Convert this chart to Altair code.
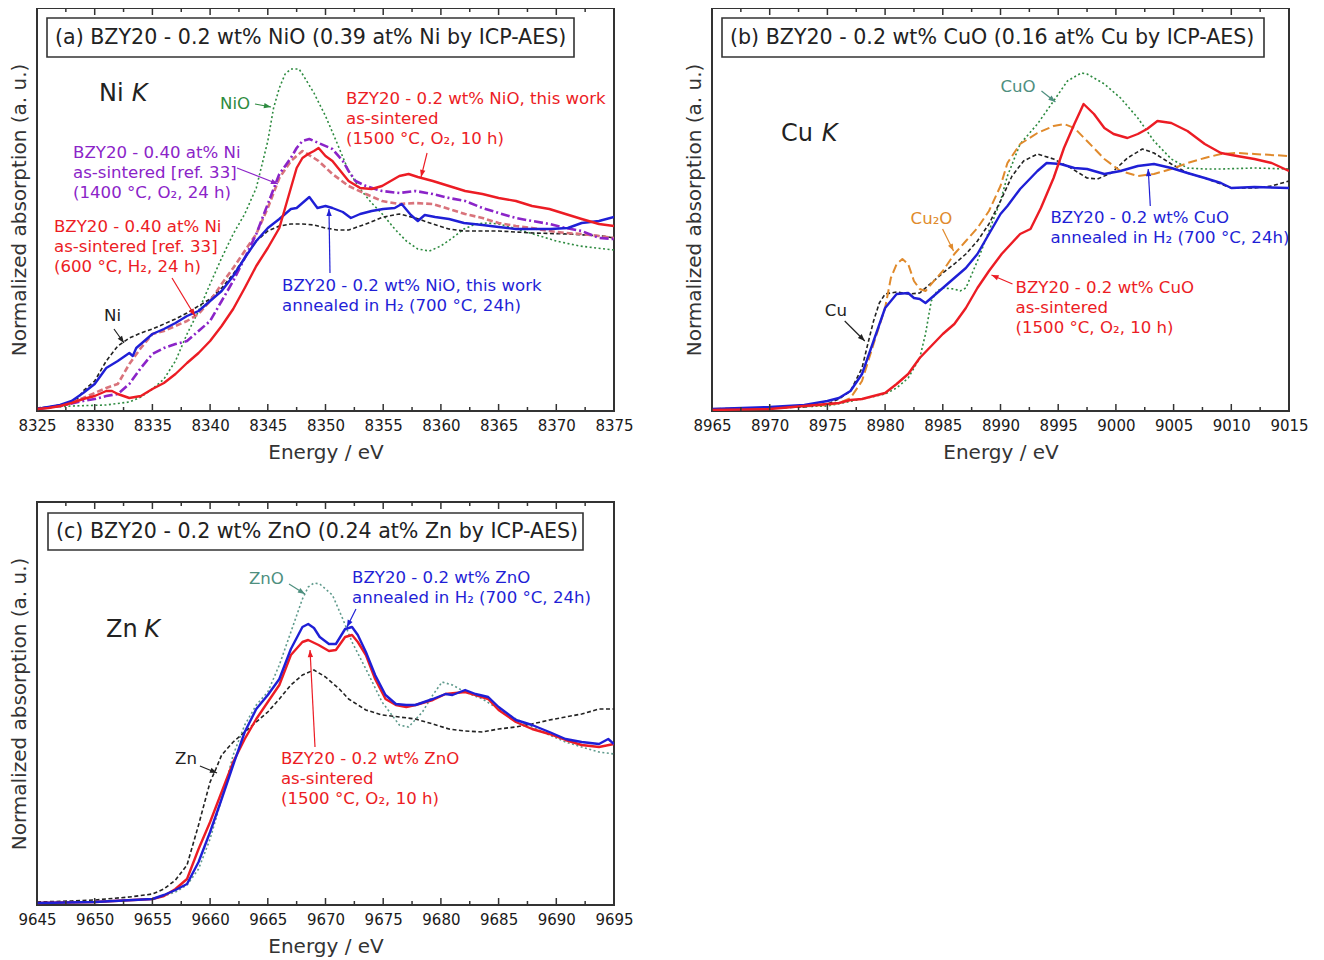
import math
import altair as alt
import pandas as pd

FONT = "DejaVu Sans"
W, H = 577, 403
YTOP = 2.015
PXX = W / 50.0
PXY = H / YTOP

RED = "#ec1c24"
BLUE = "#1f1fd6"
BLACK = "#222222"
GREEN = "#2e8b40"
TEAL = "#4e8f7f"
TEALLINE = "#5f9a8c"
PURPLE = "#8b24c8"
PINK = "#d9737b"
ORANGE = "#e08a2c"

# ---------------- Panel (a): Ni K ----------------
E_A_NIO = [8325, 8328, 8331, 8333, 8334, 8335, 8336, 8337, 8338, 8339, 8340, 8341, 8342, 8343, 8344,
           8345, 8345.5, 8346, 8346.5, 8347, 8347.7, 8348, 8349, 8350, 8351, 8352, 8353, 8354, 8355,
           8356, 8357, 8358, 8359, 8360, 8361, 8362, 8363, 8364, 8365, 8366, 8368, 8370, 8372, 8375]
A_A_NIO = [0.015, 0.025, 0.03, 0.045, 0.07, 0.11, 0.16, 0.25, 0.385, 0.5, 0.635, 0.765, 0.885, 0.985, 1.115,
           1.35, 1.515, 1.615, 1.685, 1.71, 1.71, 1.685, 1.59, 1.475, 1.34, 1.2, 1.11, 1.04, 0.98,
           0.91, 0.85, 0.81, 0.8, 0.825, 0.865, 0.91, 0.935, 0.94, 0.935, 0.92, 0.885, 0.85, 0.825, 0.805]

E_A_NI = [8325, 8326, 8327, 8328, 8328.5, 8329, 8330, 8331, 8332, 8333, 8334, 8335, 8336, 8337, 8338,
          8339, 8340, 8341, 8342, 8343, 8344, 8345, 8346, 8347, 8348, 8349, 8350, 8351, 8352, 8353.5,
          8355, 8356.4, 8357.8, 8359.3, 8360.7, 8362, 8365, 8368, 8371, 8374, 8375]
A_A_NI = [0.015, 0.02, 0.03, 0.045, 0.06, 0.1, 0.15, 0.25, 0.325, 0.365, 0.39, 0.41, 0.435, 0.46, 0.49,
          0.525, 0.56, 0.615, 0.685, 0.765, 0.85, 0.9, 0.925, 0.935, 0.935, 0.93, 0.915, 0.905, 0.905, 0.935,
          0.97, 0.985, 0.965, 0.935, 0.91, 0.9, 0.9, 0.89, 0.885, 0.875, 0.865]

E_A_PINK = [8325, 8327, 8329, 8330, 8331, 8332, 8333, 8334, 8335, 8336, 8337, 8338, 8339, 8340, 8341,
            8342, 8343, 8344, 8345, 8346, 8347, 8348, 8349, 8349.4, 8350.6, 8352, 8353.5, 8354.9, 8356.4,
            8357.8, 8359.3, 8360.7, 8362.1, 8363.6, 8365, 8366.5, 8367.9, 8369.4, 8370.8, 8372.2, 8373.7, 8375]
A_A_PINK = [0.01, 0.025, 0.065, 0.09, 0.115, 0.135, 0.235, 0.315, 0.385, 0.4, 0.425, 0.45, 0.485, 0.55, 0.635,
            0.715, 0.8, 0.885, 1.015, 1.165, 1.25, 1.3, 1.265, 1.25, 1.185, 1.125, 1.085, 1.05, 1.035,
            1.04, 1.035, 1.01, 0.985, 0.965, 0.94, 0.925, 0.915, 0.9, 0.89, 0.885, 0.875, 0.865]

E_A_PURPLE = [8325, 8327, 8329, 8330, 8331, 8332, 8333, 8334, 8335, 8336, 8337, 8338, 8339, 8340, 8341,
              8342, 8343, 8344, 8345, 8346, 8347, 8347.5, 8348, 8348.6, 8349.4, 8350.6, 8351.5, 8352, 8352.6,
              8353.5, 8354.9, 8356.4, 8357.8, 8359.3, 8360.7, 8362.1, 8363.6, 8365, 8366.5, 8367.9, 8369.4,
              8370.8, 8372.2, 8373.7, 8375]
A_A_PURPLE = [0.01, 0.025, 0.05, 0.06, 0.075, 0.085, 0.135, 0.215, 0.285, 0.315, 0.335, 0.35, 0.4, 0.45, 0.55,
              0.65, 0.765, 0.885, 1.035, 1.185, 1.265, 1.315, 1.35, 1.36, 1.34, 1.31, 1.25, 1.2, 1.15,
              1.125, 1.1, 1.09, 1.1, 1.085, 1.065, 1.05, 1.015, 0.99, 0.965, 0.95, 0.935,
              0.915, 0.9, 0.865, 0.86]

E_A_BLUE = [8325, 8326, 8327, 8328, 8329, 8330, 8331, 8332, 8333, 8333.3, 8333.6, 8334, 8335, 8336, 8337,
            8338, 8339, 8340, 8341, 8342, 8343, 8344, 8345, 8346, 8347, 8347.5, 8348, 8348.6, 8349.3, 8350,
            8350.6, 8351.5, 8352.2, 8353, 8354, 8355, 8356, 8356.6, 8357.4, 8358, 8358.6, 8359.5, 8360.7,
            8362, 8363.6, 8365, 8366.5, 8368, 8369.5, 8371, 8372.2, 8373.7, 8375]
A_A_BLUE = [0.01, 0.02, 0.03, 0.05, 0.09, 0.135, 0.215, 0.25, 0.29, 0.275, 0.315, 0.335, 0.385, 0.41, 0.44,
            0.475, 0.5, 0.55, 0.6, 0.675, 0.765, 0.85, 0.915, 0.96, 1.01, 1.015, 1.04, 1.07, 1.015, 1.025,
            1.015, 0.995, 0.965, 0.985, 1.0, 1.01, 1.015, 1.035, 0.98, 0.95, 0.98, 0.97, 0.96,
            0.94, 0.93, 0.92, 0.91, 0.91, 0.91, 0.915, 0.94, 0.95, 0.97]

E_A_RED = [8325, 8326, 8327, 8328, 8329, 8330, 8331, 8331.5, 8332, 8333, 8334, 8335, 8336, 8337, 8338,
           8339, 8340, 8341, 8342, 8343, 8344, 8345, 8346, 8346.5, 8347, 8347.5, 8348, 8348.5, 8349, 8349.4,
           8350, 8350.6, 8351.3, 8352, 8353, 8354, 8354.9, 8356.4, 8357.2, 8358, 8359.3, 8360.7, 8362.1,
           8363.6, 8365, 8366.5, 8367.9, 8369.4, 8370.8, 8372.2, 8373.7, 8375]
A_A_RED = [0.01, 0.015, 0.025, 0.04, 0.06, 0.075, 0.1, 0.1, 0.085, 0.065, 0.075, 0.11, 0.14, 0.185, 0.24,
           0.29, 0.35, 0.425, 0.51, 0.615, 0.725, 0.815, 0.915, 1.015, 1.115, 1.215, 1.265, 1.285, 1.3, 1.315,
           1.275, 1.25, 1.2, 1.15, 1.115, 1.11, 1.125, 1.175, 1.185, 1.17, 1.15, 1.125, 1.1,
           1.085, 1.065, 1.05, 1.025, 1.01, 0.985, 0.96, 0.935, 0.925]

# ---------------- Panel (b): Cu K ----------------
E_B_CU = [8965, 8970, 8973, 8975, 8976, 8977, 8978, 8978.5, 8979, 8979.5, 8980, 8981, 8982, 8983, 8984,
          8985, 8986, 8987, 8988, 8989, 8990, 8991, 8992, 8993.2, 8994.6, 8996.1, 8997.5, 8998.4, 8999.6,
          9001, 9002.3, 9003.3, 9004.8, 9006.2, 9007.7, 9009.1, 9010, 9012, 9013.5, 9015]
A_B_CU = [0.01, 0.015, 0.02, 0.035, 0.06, 0.1, 0.215, 0.335, 0.45, 0.54, 0.585, 0.595, 0.585, 0.59, 0.64,
          0.69, 0.735, 0.785, 0.85, 0.935, 1.05, 1.175, 1.25, 1.285, 1.26, 1.215, 1.165, 1.16, 1.19,
          1.265, 1.31, 1.29, 1.235, 1.19, 1.165, 1.135, 1.115, 1.115, 1.125, 1.15]

E_B_CU2O = [8965, 8970, 8975, 8976, 8977, 8978, 8979, 8980, 8980.5, 8981, 8981.5, 8982, 8982.5, 8983, 8983.5,
            8984, 8985, 8986, 8987, 8988, 8989, 8990, 8990.6, 8991.7, 8993.2, 8994.6, 8995.5, 8996.4, 8997.5,
            8999, 9000.4, 9001.9, 9003.3, 9004.8, 9006.2, 9007.7, 9009.1, 9010.5, 9012, 9015]
A_B_CU2O = [0.01, 0.015, 0.03, 0.04, 0.065, 0.15, 0.335, 0.515, 0.665, 0.735, 0.76, 0.735, 0.65, 0.61, 0.6,
            0.635, 0.7, 0.785, 0.85, 0.915, 1.0, 1.125, 1.24, 1.335, 1.39, 1.425, 1.435, 1.415, 1.35,
            1.26, 1.2, 1.175, 1.185, 1.21, 1.24, 1.265, 1.285, 1.29, 1.285, 1.275]

E_B_CUO = [8965, 8975, 8978, 8980, 8981, 8982, 8983, 8983.5, 8984, 8984.5, 8985, 8986, 8986.5, 8987, 8988,
           8989, 8990, 8990.6, 8991.7, 8993.2, 8994.6, 8995.8, 8997, 8997.5, 8999, 9000.4, 9001.9, 9003.3,
           9004.8, 9006.2, 9007.7, 9009.1, 9012, 9015]
A_B_CUO = [0.01, 0.025, 0.06, 0.085, 0.115, 0.165, 0.265, 0.385, 0.55, 0.6, 0.615, 0.61, 0.6, 0.615, 0.75,
           0.9, 1.05, 1.175, 1.335, 1.435, 1.55, 1.65, 1.69, 1.685, 1.635, 1.565, 1.465, 1.35,
           1.26, 1.215, 1.21, 1.21, 1.215, 1.21]

E_B_BLUE = [8965, 8970, 8973, 8975, 8976, 8977, 8978, 8979, 8980, 8980.5, 8981, 8982, 8982.5, 8983, 8983.5,
            8984, 8985, 8986, 8987, 8988, 8989, 8990, 8990.6, 8991.7, 8993.2, 8994, 8995.2, 8996.4, 8997.5,
            8999, 9000.4, 9001.9, 9003.3, 9004.8, 9006.2, 9007.7, 9009.1, 9010, 9012, 9015]
A_B_BLUE = [0.01, 0.02, 0.03, 0.05, 0.065, 0.1, 0.185, 0.35, 0.515, 0.55, 0.585, 0.59, 0.565, 0.56, 0.54,
            0.565, 0.615, 0.665, 0.715, 0.785, 0.885, 0.985, 1.025, 1.11, 1.2, 1.24, 1.235, 1.215, 1.21,
            1.185, 1.2, 1.225, 1.235, 1.215, 1.19, 1.165, 1.14, 1.115, 1.12, 1.115]

E_B_RED = [8965, 8970, 8975, 8976, 8977, 8978, 8979, 8980, 8981, 8982, 8983, 8984, 8985, 8986, 8987,
           8988, 8989, 8990.1, 8991.7, 8992.6, 8993.5, 8994.6, 8995.5, 8996.4, 8997.2, 8998.1, 8999, 8999.8,
           9001, 9001.9, 9002.7, 9003.6, 9004.8, 9006.2, 9007.7, 9009.1, 9010.5, 9012, 9013.5, 9015]
A_B_RED = [0.005, 0.01, 0.035, 0.04, 0.055, 0.06, 0.075, 0.09, 0.135, 0.185, 0.265, 0.325, 0.385, 0.435, 0.515,
           0.615, 0.7, 0.785, 0.885, 0.91, 1.015, 1.165, 1.315, 1.435, 1.535, 1.485, 1.415, 1.385,
           1.365, 1.385, 1.41, 1.45, 1.44, 1.4, 1.335, 1.29, 1.275, 1.26, 1.24, 1.2]

# ---------------- Panel (c): Zn K ----------------
E_C_ZN = [9645, 9648, 9650, 9653, 9655, 9656, 9657, 9658, 9659, 9660, 9660.5, 9661, 9662, 9663, 9664,
          9665, 9666, 9667, 9668, 9669, 9670, 9671.2, 9672, 9673.5, 9674.9, 9676.4, 9677.8, 9679.3, 9680.7,
          9682.1, 9683.6, 9685, 9686.5, 9687.9, 9689.4, 9690.8, 9692.2, 9693.7, 9695]
A_C_ZN = [0.015, 0.02, 0.025, 0.04, 0.055, 0.08, 0.125, 0.2, 0.4, 0.615, 0.68, 0.75, 0.815, 0.865, 0.915,
          0.965, 1.03, 1.1, 1.15, 1.175, 1.14, 1.08, 1.03, 0.975, 0.95, 0.94, 0.93, 0.905, 0.88,
          0.87, 0.865, 0.88, 0.89, 0.905, 0.925, 0.94, 0.955, 0.98, 0.98]

E_C_ZNO = [9645, 9650, 9655, 9656, 9657, 9658, 9659, 9660, 9661, 9662, 9663, 9664, 9665, 9666, 9667,
           9668, 9668.5, 9669, 9669.5, 9670, 9670.6, 9671.5, 9672.3, 9673.5, 9674.9, 9676.4, 9677.2, 9678.4,
           9679.3, 9680.1, 9681, 9682.1, 9683.6, 9685, 9686.5, 9687.9, 9689.4, 9690.8, 9692.2, 9693.7, 9695]
A_C_ZNO = [0.01, 0.015, 0.03, 0.045, 0.065, 0.1, 0.18, 0.33, 0.53, 0.75, 0.9, 1.0, 1.065, 1.2, 1.365,
           1.53, 1.59, 1.61, 1.605, 1.58, 1.55, 1.43, 1.315, 1.18, 1.015, 0.9, 0.89, 0.965,
           1.05, 1.115, 1.1, 1.065, 1.03, 0.98, 0.93, 0.89, 0.85, 0.815, 0.79, 0.765, 0.755]

E_C_BLUE = [9645, 9650, 9655, 9656, 9657, 9658, 9659, 9660, 9661, 9662, 9663, 9664, 9665, 9666, 9667,
            9668, 9668.5, 9669, 9669.5, 9670.3, 9670.9, 9671.7, 9672.3, 9672.8, 9673.5, 9674.3, 9675.2,
            9676.1, 9677, 9677.8, 9679.3, 9680.4, 9681, 9682.1, 9683, 9684.1, 9685, 9686.5, 9687.9,
            9689.4, 9690.8, 9692.2, 9693.7, 9694.5, 9695]
A_C_BLUE = [0.01, 0.015, 0.03, 0.05, 0.075, 0.105, 0.215, 0.365, 0.53, 0.7, 0.865, 0.98, 1.05, 1.13, 1.28,
            1.39, 1.405, 1.385, 1.34, 1.305, 1.305, 1.38, 1.39, 1.35, 1.265, 1.15, 1.05,
            1.005, 1.0, 1.0, 1.03, 1.055, 1.05, 1.075, 1.055, 1.04, 0.99, 0.925, 0.9,
            0.865, 0.83, 0.815, 0.805, 0.83, 0.805]

E_C_RED = [9645, 9650, 9655, 9656, 9657, 9658, 9659, 9660, 9661, 9662, 9663, 9664, 9665, 9666, 9667,
           9668, 9668.5, 9669.4, 9670.3, 9670.9, 9671.7, 9672.3, 9672.8, 9673.5, 9674.3, 9675.2, 9676.1,
           9677, 9677.8, 9679.3, 9680.4, 9682.1, 9683, 9684.1, 9685, 9686.5, 9687.9, 9689.4, 9690.8,
           9692.2, 9693.7, 9695]
A_C_RED = [0.01, 0.015, 0.03, 0.045, 0.08, 0.13, 0.28, 0.415, 0.565, 0.715, 0.83, 0.93, 1.015, 1.1, 1.25,
           1.315, 1.325, 1.3, 1.27, 1.275, 1.34, 1.35, 1.315, 1.25, 1.13, 1.03, 1.0,
           0.99, 1.0, 1.025, 1.055, 1.065, 1.05, 1.03, 0.975, 0.915, 0.88, 0.855, 0.825,
           0.8, 0.79, 0.805]

# ---------------- Tick values ----------------
TICKS_A = [8325, 8330, 8335, 8340, 8345, 8350, 8355, 8360, 8365, 8370, 8375]
TICKS_B = [8965, 8970, 8975, 8980, 8985, 8990, 8995, 9000, 9005, 9010, 9015]
TICKS_C = [9645, 9650, 9655, 9660, 9665, 9670, 9675, 9680, 9685, 9690, 9695]

TITLE_A = "(a) BZY20 - 0.2 wt% NiO (0.39 at% Ni by ICP-AES)"
TITLE_B = "(b) BZY20 - 0.2 wt% CuO (0.16 at% Cu by ICP-AES)"
TITLE_C = "(c) BZY20 - 0.2 wt% ZnO (0.24 at% Zn by ICP-AES)"

# annotation text: (energy, value, text, color)
TEXT_A = [
    (8340.86, 1.535, "NiO", GREEN),
    (8351.78, 1.56, "BZY20 - 0.2 wt% NiO, this work", RED),
    (8351.78, 1.46, "as-sintered", RED),
    (8351.78, 1.36, "(1500 °C, O₂, 10 h)", RED),
    (8328.12, 1.29, "BZY20 - 0.40 at% Ni", PURPLE),
    (8328.12, 1.19, "as-sintered [ref. 33]", PURPLE),
    (8328.12, 1.09, "(1400 °C, O₂, 24 h)", PURPLE),
    (8326.47, 0.92, "BZY20 - 0.40 at% Ni", RED),
    (8326.47, 0.82, "as-sintered [ref. 33]", RED),
    (8326.47, 0.72, "(600 °C, H₂, 24 h)", RED),
    (8346.23, 0.625, "BZY20 - 0.2 wt% NiO, this work", BLUE),
    (8346.23, 0.525, "annealed in H₂ (700 °C, 24h)", BLUE),
    (8330.81, 0.475, "Ni", BLACK),
]
ARROWS_A = [
    (8343.89, 1.535, 8345.28, 1.52, GREEN),
    (8358.80, 1.29, 8358.28, 1.17, RED),
    (8342.33, 1.215, 8345.88, 1.135, PURPLE),
    (8336.70, 0.665, 8338.69, 0.475, RED),
    (8350.39, 0.69, 8350.30, 1.01, BLUE),
    (8331.67, 0.41, 8332.54, 0.34, BLACK),
]
EDGE_A = [(8330.37, 1.585, "Ni"), (8333.2, 1.585, "K")]

TEXT_B = [
    (8990.0, 1.62, "CuO", TEAL),
    (8982.21, 0.96, "Cu₂O", ORANGE),
    (8974.78, 0.50, "Cu", BLACK),
    (8994.33, 0.965, "BZY20 - 0.2 wt% CuO", BLUE),
    (8994.33, 0.865, "annealed in H₂ (700 °C, 24h)", BLUE),
    (8991.30, 0.615, "BZY20 - 0.2 wt% CuO", RED),
    (8991.30, 0.515, "as-sintered", RED),
    (8991.30, 0.415, "(1500 °C, O₂, 10 h)", RED),
]
ARROWS_B = [
    (8993.55, 1.60, 8994.76, 1.545, TEAL),
    (8984.98, 0.91, 8985.93, 0.80, ORANGE),
    (8976.5, 0.45, 8978.24, 0.35, BLACK),
    (9002.98, 1.025, 9002.80, 1.21, BLUE),
    (8991.04, 0.635, 8989.22, 0.68, RED),
]
EDGE_B = [(8970.97, 1.385, "Cu"), (8974.5, 1.385, "K")]

TEXT_C = [
    (9663.37, 1.63, "ZnO", TEAL),
    (9672.30, 1.635, "BZY20 - 0.2 wt% ZnO", BLUE),
    (9672.30, 1.535, "annealed in H₂ (700 °C, 24h)", BLUE),
    (9666.14, 0.73, "BZY20 - 0.2 wt% ZnO", RED),
    (9666.14, 0.63, "as-sintered", RED),
    (9666.14, 0.53, "(1500 °C, O₂, 10 h)", RED),
    (9656.96, 0.73, "Zn", BLACK),
]
ARROWS_C = [
    (9666.84, 1.605, 9668.22, 1.555, TEAL),
    (9672.64, 1.48, 9671.86, 1.39, BLUE),
    (9669.09, 0.79, 9668.66, 1.275, RED),
    (9659.12, 0.695, 9660.60, 0.66, BLACK),
]
EDGE_C = [(9650.98, 1.375, "Zn"), (9654.3, 1.375, "K")]

ARROW_HEAD = "M0,0L-0.38,1L0.38,1Z"


def panel(ticks, series, texts, arrows, edge, title, box):
    x0, x1 = ticks[0], ticks[-1]
    xs = alt.Scale(domain=[x0, x1], nice=False, zero=False)
    ys = alt.Scale(domain=[0, YTOP], nice=False, zero=False)
    xax = alt.Axis(values=ticks, format="d", labelFont=FONT, labelFontSize=15, labelColor="#1a1a1a",
                   ticks=False, domain=False, grid=False, labelPadding=7, labelFlush=False,
                   title="Energy / eV", titleFont=FONT, titleFontSize=20, titleFontWeight="normal",
                   titleColor="#333333", titlePadding=9)
    yax = alt.Axis(labels=False, ticks=False, domain=False, grid=False,
                   title="Normalized absorption (a. u.)", titleFont=FONT, titleFontSize=20,
                   titleFontWeight="normal", titleColor="#333333", titlePadding=8)
    X = alt.X("E:Q", scale=xs, axis=xax)
    Y = alt.Y("A:Q", scale=ys, axis=yax)

    layers = []
    for e, a, color, width, dash in series:
        df = pd.DataFrame({"E": e, "A": a})
        kw = dict(color=color, strokeWidth=width, clip=True, strokeJoin="round")
        if dash:
            kw["strokeDash"] = dash
        layers.append(alt.Chart(df).mark_line(**kw).encode(x=X, y=Y))

    # inward ticks on top and bottom edges
    majors = pd.DataFrame({"E": ticks})
    minors = pd.DataFrame({"E": [t + 2.5 for t in ticks[:-1]]})
    for df, ln in ((majors, 7), (minors, 4)):
        layers.append(alt.Chart(df).mark_rule(color="#333333", strokeWidth=1.5).encode(
            x=X, y=alt.value(H), y2=alt.value(H - ln)))
        layers.append(alt.Chart(df).mark_rule(color="#333333", strokeWidth=1.5).encode(
            x=X, y=alt.value(0), y2=alt.value(ln)))

    # arrows
    adf = pd.DataFrame(arrows, columns=["E0", "A0", "E", "A", "c"])
    adf["ang"] = [
        (math.degrees(math.atan2((r.E - r.E0) * PXX, (r.A - r.A0) * PXY)) + 360) % 360
        for r in adf.itertuples()
    ]
    layers.append(alt.Chart(adf).mark_rule(strokeWidth=1.2).encode(
        x=alt.X("E0:Q", scale=xs, axis=xax), y=alt.Y("A0:Q", scale=ys, axis=yax),
        x2="E:Q", y2="A:Q", color=alt.Color("c:N", scale=None)))
    layers.append(alt.Chart(adf).mark_point(shape=ARROW_HEAD, filled=True, size=200, opacity=1,
                                            strokeWidth=0).encode(
        x=X, y=Y, angle=alt.Angle("ang:Q", scale=None), color=alt.Color("c:N", scale=None)))

    # text annotations
    tdf = pd.DataFrame(texts, columns=["E", "A", "t", "c"])
    layers.append(alt.Chart(tdf).mark_text(align="left", baseline="middle", font=FONT,
                                           fontSize=16.6).encode(
        x=X, y=Y, text="t:N", color=alt.Color("c:N", scale=None)))
    edf = pd.DataFrame(edge[:1], columns=["E", "A", "t"])
    kdf = pd.DataFrame(edge[1:], columns=["E", "A", "t"])
    layers.append(alt.Chart(edf).mark_text(align="left", baseline="middle", font=FONT,
                                           fontSize=24, color="#222222").encode(x=X, y=Y, text="t:N"))
    layers.append(alt.Chart(kdf).mark_text(align="left", baseline="middle", font=FONT, fontSize=24,
                                           fontStyle="italic", color="#222222").encode(
        x=X, y=Y, text="t:N"))

    # title box
    one = pd.DataFrame({"k": [0]})
    bx0, by0, bx1, by1 = box
    layers.append(alt.Chart(one).mark_rect(fill="white", stroke="#333333", strokeWidth=1.6).encode(
        x=alt.value(bx0), x2=alt.value(bx1), y=alt.value(by0), y2=alt.value(by1)))
    layers.append(alt.Chart(one).mark_text(align="left", baseline="middle", font=FONT, fontSize=20.6,
                                           color="#222222").encode(
        x=alt.value(bx0 + 8), y=alt.value((by0 + by1) / 2), text=alt.value(title)))

    return alt.layer(*layers).properties(width=W, height=H)


pa = panel(TICKS_A, [
    (E_A_NIO, A_A_NIO, GREEN, 1.6, [2, 2.5]),
    (E_A_NI, A_A_NI, BLACK, 1.6, [4, 2.5]),
    (E_A_PINK, A_A_PINK, PINK, 2.6, [6, 3]),
    (E_A_PURPLE, A_A_PURPLE, PURPLE, 2.6, [9, 3, 2, 3]),
    (E_A_BLUE, A_A_BLUE, BLUE, 2.4, None),
    (E_A_RED, A_A_RED, RED, 2.4, None),
], TEXT_A, ARROWS_A, EDGE_A, TITLE_A, (10, 10, 537, 49))

pb = panel(TICKS_B, [
    (E_B_CUO, A_B_CUO, GREEN, 1.6, [2, 2.5]),
    (E_B_CU, A_B_CU, BLACK, 1.6, [4, 2.5]),
    (E_B_CU2O, A_B_CU2O, ORANGE, 2.0, [9, 4]),
    (E_B_BLUE, A_B_BLUE, BLUE, 2.4, None),
    (E_B_RED, A_B_RED, RED, 2.4, None),
], TEXT_B, ARROWS_B, EDGE_B, TITLE_B, (10, 10, 552, 49))

pc = panel(TICKS_C, [
    (E_C_ZNO, A_C_ZNO, TEALLINE, 1.6, [2, 2.5]),
    (E_C_ZN, A_C_ZN, BLACK, 1.6, [4, 2.5]),
    (E_C_RED, A_C_RED, RED, 2.4, None),
    (E_C_BLUE, A_C_BLUE, BLUE, 2.4, None),
], TEXT_C, ARROWS_C, EDGE_C, TITLE_C, (11, 11, 546, 48))

chart = alt.concat(pa, pb, pc, columns=2, spacing={"row": 91, "column": 98}, bounds="flush").properties(
    padding={"left": 0, "top": -2, "right": 0, "bottom": 0}, background="white"
).configure_view(stroke="#333333", strokeWidth=2)

chart.save("out.html", embed_options={"renderer": "svg", "actions": False})
